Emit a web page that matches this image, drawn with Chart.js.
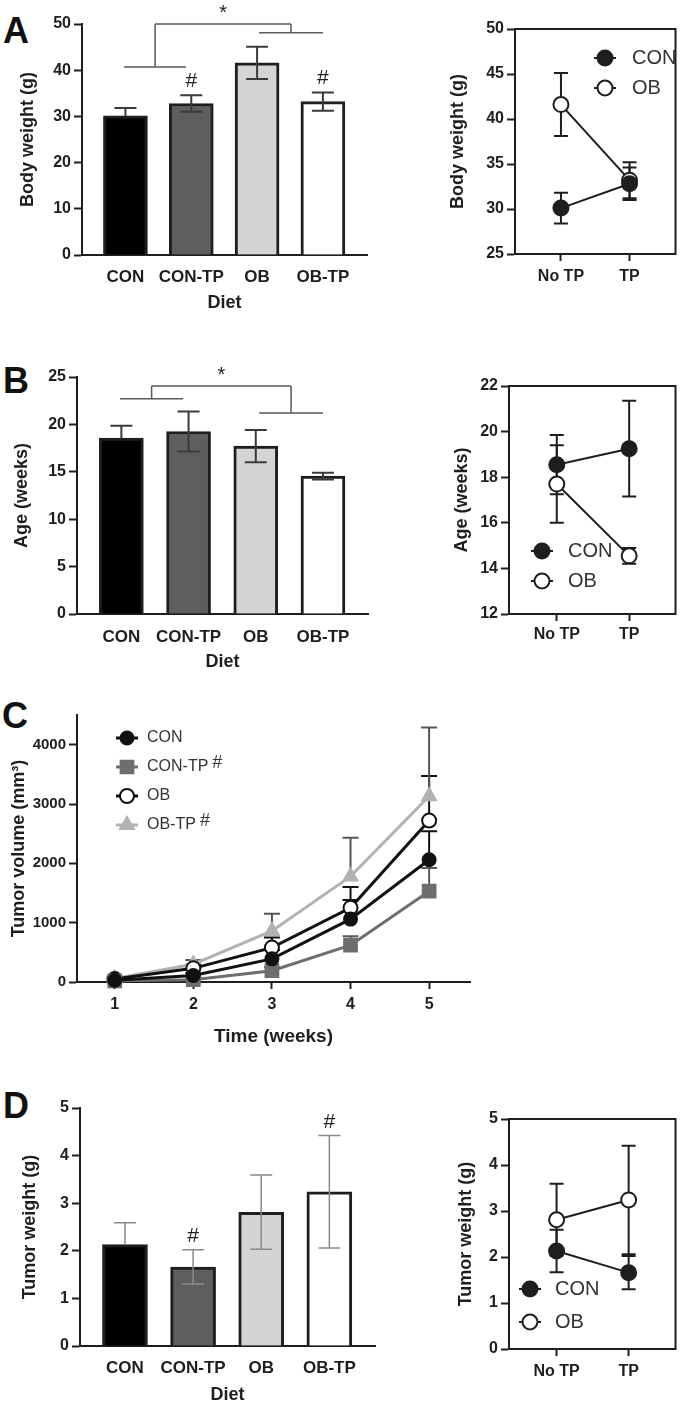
<!DOCTYPE html>
<html>
<head>
<meta charset="utf-8">
<title>Body weight, age, tumor volume and tumor weight</title>
<script src="https://cdn.jsdelivr.net/npm/chart.js@4.4.1/dist/chart.umd.min.js"></script>
<style>
  html, body { margin: 0; padding: 0; background: #fff; }
  body { position: relative; width: 685px; height: 1406px; overflow: hidden;
         font-family: "Liberation Sans", Arial, sans-serif; }
  canvas { position: absolute; }
  .tag { position: absolute; font-weight: bold; font-size: 36px; line-height: 36px; color: #111; }
</style>
</head>
<body>
<div class="tag" style="left:3px;top:13px">A</div>
<div class="tag" style="left:3px;top:363px">B</div>
<div class="tag" style="left:2px;top:698px">C</div>
<div class="tag" style="left:3px;top:1088px">D</div>

<canvas id="bwBar" width="375" height="315" style="left:0;top:0"></canvas>
<canvas id="bwTp" width="245" height="305" style="left:440px;top:0"></canvas>
<canvas id="ageBar" width="375" height="335" style="left:0;top:340px"></canvas>
<canvas id="ageTp" width="245" height="305" style="left:440px;top:350px"></canvas>
<canvas id="volLine" width="485" height="355" style="left:0;top:695px"></canvas>
<canvas id="twBar" width="385" height="326" style="left:0;top:1080px"></canvas>
<canvas id="twTp" width="245" height="316" style="left:440px;top:1090px"></canvas>

<script>
// Values (mean +/- SEM)
var diets = ['CON', 'CON-TP', 'OB', 'OB-TP'];
var tpLabels = ['No TP', 'TP'];
var dietColors = ['#000000', '#5e5e5e', '#d4d4d4', '#ffffff'];

var bodyWeight = [30.1, 32.8, 41.6, 33.2];
var bodyWeightSem = [1.7, 1.8, 3.5, 2.0];
var bodyWeightSig = ['', '#', '', '#'];

var ageWeeks = [18.55, 19.25, 17.7, 14.55];
var ageWeeksSem = [1.3, 2.1, 1.7, 0.35];

var tumorWeight = [2.13, 1.66, 2.81, 3.24];
var tumorWeightSem = [0.46, 0.36, 0.78, 1.18];
var tumorWeightSig = ['', '#', '', '#'];

var weeks = [1, 2, 3, 4, 5];
var volCon = [30, 110, 390, 1060, 2060];
var volConSem = [20, 40, 150, 320, 480];
var volConTp = [20, 40, 190, 620, 1530];
var volConTpSem = [10, 20, 60, 150, 390];
var volOb = [50, 230, 580, 1250, 2720];
var volObSem = [25, 60, 170, 350, 750];
var volObTp = [60, 300, 860, 1780, 3130];
var volObTpSem = [30, 70, 290, 650, 1160];
var volSig = ['', '#', '', '#'];

var bwTicks = [0, 10, 20, 30, 40, 50];
var bwTpTicks = [25, 30, 35, 40, 45, 50];
var ageTicks = [0, 5, 10, 15, 20, 25];
var ageTpTicks = [12, 14, 16, 18, 20, 22];
var volTicks = [0, 1000, 2000, 3000, 4000];
var twTicks = [0, 1, 2, 3, 4, 5];

var F = '"Liberation Sans", Arial, sans-serif';
var NARROW = '"Liberation Sans Narrow", "Liberation Sans", Arial, sans-serif';
var INK = '#1e1e1e';
Chart.defaults.font.family = F;

function font(size, bold) { return { family: F, size: size, weight: bold ? 'bold' : 'normal', lineHeight: 1.2 }; }
function fixedTicks(list) { return function (s) { s.ticks = list.map(function (v) { return { value: v }; }); }; }
function fixW(w) { return function (s) { s.width = w; }; }
function fixH(h) { return function (s) { s.height = h; }; }

function drawMarker(ctx, ds, x, y) {
  ctx.fillStyle = ds.pointBackgroundColor;
  ctx.strokeStyle = ds.pointBorderColor;
  ctx.lineWidth = ds.pointBorderWidth;
  if (Chart.helpers && Chart.helpers.drawPoint) {
    Chart.helpers.drawPoint(ctx, { pointStyle: ds.pointStyle, radius: ds.pointRadius,
      borderWidth: ds.pointBorderWidth, rotation: 0 }, x, y);
  } else {
    ctx.beginPath(); ctx.arc(x, y, ds.pointRadius, 0, Math.PI * 2); ctx.fill(); ctx.stroke();
  }
}

// error bars (+ optional "#" marks above them)
function drawErrors(chart, behind) {
  var ctx = chart.ctx, ys = chart.scales.y;
  chart.data.datasets.forEach(function (ds, di) {
    if (!ds.errors || !!ds.errorsBehind !== behind) return;
    var meta = chart.getDatasetMeta(di);
    ctx.save();
    ctx.strokeStyle = ds.errorColor;
    ctx.lineWidth = ds.errorWidth || 2;
    meta.data.forEach(function (el, i) {
      var v = ds.data[i].y, e = ds.errors[i];
      var top = ys.getPixelForValue(v + e);
      var hideLow = ds.errorUpOnly || (Array.isArray(ds.backgroundColor) && ds.backgroundColor[i] === '#000000');
      var bot = ys.getPixelForValue(hideLow ? v : v - e);
      var hw = ds.errorCap || 11;
      ctx.beginPath();
      ctx.moveTo(el.x, top); ctx.lineTo(el.x, bot);
      ctx.moveTo(el.x - hw, top); ctx.lineTo(el.x + hw, top);
      if (!hideLow) { ctx.moveTo(el.x - hw, bot); ctx.lineTo(el.x + hw, bot); }
      ctx.stroke();
      if (ds.marks && ds.marks[i]) {
        ctx.fillStyle = '#222';
        ctx.font = '21px ' + F;
        ctx.textAlign = 'center';
        ctx.textBaseline = 'alphabetic';
        ctx.fillText(ds.marks[i], el.x, top - 8);
      }
    });
    ctx.restore();
  });
}
var errorBars = {
  id: 'errorBars',
  beforeDatasetsDraw: function (chart) { drawErrors(chart, true); },
  afterDatasetsDraw: function (chart) { drawErrors(chart, false); }
};

// significance bracket between two groups
var brackets = {
  id: 'brackets',
  afterDatasetsDraw: function (chart, args, o) {
    if (!o || !o.groups) return;
    var ctx = chart.ctx, xs = chart.scales.x, ys = chart.scales.y;
    var topY = ys.getPixelForValue(o.top);
    ctx.save();
    ctx.strokeStyle = '#5a5a5a';
    ctx.lineWidth = 1.5;
    ctx.beginPath();
    var mids = o.groups.map(function (g) {
      var x0 = xs.getPixelForValue(g[0]), x1 = xs.getPixelForValue(g[1]), y = ys.getPixelForValue(g[2]);
      var xm = (x0 + x1) / 2;
      ctx.moveTo(x0, y); ctx.lineTo(x1, y);
      ctx.moveTo(xm, y); ctx.lineTo(xm, topY);
      return xm;
    });
    ctx.moveTo(mids[0], topY); ctx.lineTo(mids[1], topY);
    ctx.stroke();
    ctx.fillStyle = '#222';
    ctx.font = '20px ' + F;
    ctx.textAlign = 'center';
    ctx.textBaseline = 'alphabetic';
    ctx.fillText(o.label, (mids[0] + mids[1]) / 2, topY - 5);
    ctx.restore();
  }
};

// legend drawn inside the plot: line + marker + label
var markerLegend = {
  id: 'markerLegend',
  afterDatasetsDraw: function (chart, args, o) {
    if (!o || o.x == null) return;
    var a = chart.chartArea, ctx = chart.ctx;
    chart.data.datasets.forEach(function (ds, i) {
      var cx = a.left + o.x;
      var cy = (o.fromBottom ? a.bottom - o.y : a.top + o.y) + i * o.gap;
      ctx.save();
      ctx.strokeStyle = ds.borderColor;
      ctx.lineWidth = ds.borderWidth;
      ctx.beginPath(); ctx.moveTo(cx - o.line, cy); ctx.lineTo(cx + o.line, cy); ctx.stroke();
      drawMarker(ctx, ds, cx, cy);
      ctx.fillStyle = '#333';
      ctx.font = o.font;
      ctx.textAlign = 'left';
      ctx.textBaseline = 'middle';
      ctx.fillText(ds.label, cx + o.text, cy);
      if (ds.sig) {
        var w = ctx.measureText(ds.label).width;
        ctx.font = o.supFont;
        ctx.textBaseline = 'alphabetic';
        ctx.fillText(ds.sig, cx + o.text + w + 4, cy + 1);
      }
      ctx.restore();
    });
  }
};

var frame = {
  id: 'frame',
  afterDraw: function (chart) {
    var a = chart.chartArea, ctx = chart.ctx;
    ctx.save();
    ctx.strokeStyle = INK;
    ctx.lineWidth = 2;
    ctx.strokeRect(a.left, a.top, a.right - a.left, a.bottom - a.top);
    ctx.restore();
  }
};

function yAxis(c) {
  return {
    type: 'linear', min: c.min, max: c.max,
    afterBuildTicks: fixedTicks(c.ticks),
    afterFit: fixW(c.width),
    border: { color: INK, width: 2 },
    grid: { drawOnChartArea: false, tickLength: 8, tickWidth: 2, tickColor: INK },
    ticks: { font: font(c.tickSize || 16, true), color: INK, padding: 3,
             callback: function (v) { return String(v); } },
    title: { display: true, text: c.title, font: font(18, true), color: INK,
             padding: { top: c.titlePad, bottom: 0 } }
  };
}

function baseOptions(c) {
  return {
    responsive: false, animation: false, events: [],
    layout: { padding: { top: c.padTop, right: c.padRight, left: 0, bottom: 0 } },
    plugins: { legend: { display: false }, tooltip: { enabled: false } }
  };
}

function dietBars(id, values, sem, marks, c) {
  var opts = baseOptions(c);
  opts.plugins.brackets = c.bracket || {};
  opts.scales = {
    x: { type: 'linear', min: -0.66, max: 3.67, offset: false,
         afterBuildTicks: fixedTicks([0, 1, 2, 3]), afterFit: fixH(c.xH),
         border: { color: INK, width: 2 }, grid: { display: false, drawTicks: false, offset: false },
         ticks: { callback: function (v) { return diets[v]; }, font: font(17, true), color: INK,
                  padding: c.xLabelPad, maxRotation: 0, autoSkip: false },
         title: { display: true, text: 'Diet', font: font(18, true), color: INK,
                  padding: { top: 0, bottom: c.xTitlePad } } },
    y: yAxis(c.y)
  };
  return new Chart(document.getElementById(id), {
    type: 'bar',
    data: { datasets: [{
      data: values.map(function (v, i) { return { x: i, y: v }; }),
      errors: sem, marks: marks, errorColor: c.errColor, errorWidth: c.errWidth, errorCap: 11,
      backgroundColor: dietColors, borderColor: INK, borderWidth: 3, barThickness: c.barW
    }] },
    options: opts,
    plugins: [errorBars, brackets]
  });
}

// CON = diets 0/1, OB = diets 2/3 (without / with TP)
function tpLines(id, values, sem, c) {
  var groups = [{ label: 'CON', idx: [0, 1], fill: INK }, { label: 'OB', idx: [2, 3], fill: '#ffffff' }];
  var opts = baseOptions(c);
  opts.plugins.markerLegend = c.legend;
  opts.scales = {
    x: { type: 'linear', min: c.xMin, max: c.xMax, offset: false,
         afterBuildTicks: fixedTicks([0, 1]), afterFit: fixH(c.xH),
         border: { color: INK, width: 2 },
         grid: { drawOnChartArea: false, tickLength: 7, tickWidth: 2, tickColor: INK },
         ticks: { callback: function (v) { return tpLabels[v]; }, font: font(16, true), color: INK,
                  padding: c.xLabelPad, maxRotation: 0, autoSkip: false } },
    y: yAxis(c.y)
  };
  return new Chart(document.getElementById(id), {
    type: 'line',
    data: { datasets: groups.map(function (g) {
      return {
        label: g.label,
        data: g.idx.map(function (k, j) { return { x: j, y: values[k] }; }),
        errors: g.idx.map(function (k) { return sem[k]; }),
        errorColor: INK, errorWidth: 2, errorCap: 7, errorsBehind: true,
        borderColor: INK, borderWidth: 2, tension: 0, clip: false,
        pointStyle: 'circle', pointRadius: 7.5, pointBorderWidth: 2,
        pointBackgroundColor: g.fill, pointBorderColor: INK
      };
    }) },
    options: opts,
    plugins: [errorBars, frame, markerLegend]
  });
}

dietBars('bwBar', bodyWeight, bodyWeightSem, bodyWeightSig, {
  padTop: 24, padRight: 8, xH: 60, xLabelPad: 12, xTitlePad: 1.2, barW: 44,
  errColor: '#3a3a3a', errWidth: 2,
  y: { min: 0, max: 50, ticks: bwTicks, width: 82, title: 'Body weight (g)', titlePad: 17 },
  bracket: { groups: [[-0.02, 0.92, 40.7], [2.03, 3.0, 48.1]], top: 50, label: '*' }
});

tpLines('bwTp', bodyWeight, bodyWeightSem, {
  padTop: 29, padRight: 6, xH: 51, xLabelPad: 6, xMin: -0.67, xMax: 1.67,
  y: { min: 25, max: 50, ticks: bwTpTicks, width: 75, title: 'Body weight (g)', titlePad: 7 },
  legend: { x: 90, y: 29, gap: 30, line: 11, text: 27, font: '20px ' + F }
});

dietBars('ageBar', ageWeeks, ageWeeksSem, null, {
  padTop: 37, padRight: 7, xH: 61, xLabelPad: 13, xTitlePad: 2.2, barW: 44,
  errColor: '#3a3a3a', errWidth: 2,
  y: { min: 0, max: 25, ticks: ageTicks, width: 77, title: 'Age (weeks)', titlePad: 11 },
  bracket: { groups: [[-0.02, 0.92, 22.7], [2.05, 3.0, 21.2]], top: 24.05, label: '*' }
});

tpLines('ageTp', ageWeeks, ageWeeksSem, {
  padTop: 36, padRight: 5, xH: 41, xLabelPad: 4, xMin: -0.66, xMax: 1.64,
  y: { min: 12, max: 22, ticks: ageTpTicks, width: 69, title: 'Age (weeks)', titlePad: 11 },
  legend: { x: 33, y: 63, gap: 30, fromBottom: true, line: 11, text: 26, font: '20px ' + F }
});

// Panel C: tumour growth curves
var volSeries = [
  { label: 'CON', values: volCon, sem: volConSem, sig: volSig[0], color: '#111111', fill: '#111111', style: 'circle', r: 6.5, err: '#111111' },
  { label: 'CON-TP', values: volConTp, sem: volConTpSem, sig: volSig[1], color: '#6e6e6e', fill: '#6e6e6e', style: 'rect', r: 9, err: '#5a5a5a' },
  { label: 'OB', values: volOb, sem: volObSem, sig: volSig[2], color: '#111111', fill: '#ffffff', style: 'circle', r: 7, err: '#111111' },
  { label: 'OB-TP', values: volObTp, sem: volObTpSem, sig: volSig[3], color: '#b2b2b2', fill: '#b2b2b2', style: 'triangle', r: 8, err: '#555555' }
];

(function () {
  var c = { padTop: 20, padRight: 15 };
  var opts = baseOptions(c);
  opts.plugins.markerLegend = { x: 50, y: 23, gap: 29, line: 11, text: 20,
    font: '16px ' + NARROW, supFont: '18px ' + NARROW };
  opts.scales = {
    x: { type: 'linear', min: 0.52, max: 5.52, offset: false,
         afterBuildTicks: fixedTicks(weeks), afterFit: fixH(68),
         border: { color: INK, width: 2 },
         grid: { drawOnChartArea: false, tickLength: 7, tickWidth: 2, tickColor: INK },
         ticks: { font: font(16, true), color: INK, padding: 6, callback: function (v) { return String(v); } },
         title: { display: true, text: 'Time (weeks)', font: { family: NARROW, size: 19, weight: 'bold', lineHeight: 1.2 },
                  color: INK, padding: { top: 0, bottom: 1.6 } } },
    y: yAxis({ min: 0, max: 4500, ticks: volTicks, width: 77, tickSize: 15, title: 'Tumor volume (mm\u00b3)', titlePad: 8.2 })
  };
  new Chart(document.getElementById('volLine'), {
    type: 'line',
    data: { datasets: volSeries.map(function (s) {
      return {
        label: s.label, sig: s.sig,
        data: weeks.map(function (w, i) { return { x: w, y: s.values[i] }; }),
        errors: s.sem, errorColor: s.err, errorWidth: 2, errorCap: 8, errorsBehind: true, errorUpOnly: true,
        borderColor: s.color, borderWidth: 3, tension: 0, clip: false,
        pointStyle: s.style, pointRadius: s.r, pointBorderWidth: 2,
        pointBackgroundColor: s.fill, pointBorderColor: s.color
      };
    }) },
    options: opts,
    plugins: [errorBars, markerLegend]
  });
})();

dietBars('twBar', tumorWeight, tumorWeightSem, tumorWeightSig, {
  padTop: 28, padRight: 10, xH: 60, xLabelPad: 12, xTitlePad: 0.2, barW: 45,
  errColor: '#8a8a8a', errWidth: 1.5,
  y: { min: 0, max: 5, ticks: twTicks, width: 80, title: 'Tumor weight (g)', titlePad: 19 }
});

tpLines('twTp', tumorWeight, tumorWeightSem, {
  padTop: 29, padRight: 5, xH: 57, xLabelPad: 6, xMin: -0.66, xMax: 1.65,
  y: { min: 0, max: 5, ticks: twTicks, width: 69, title: 'Tumor weight (g)', titlePad: 15 },
  legend: { x: 21, y: 60, gap: 33, fromBottom: true, line: 11, text: 25, font: '20px ' + F }
});
</script>
</body>
</html>
